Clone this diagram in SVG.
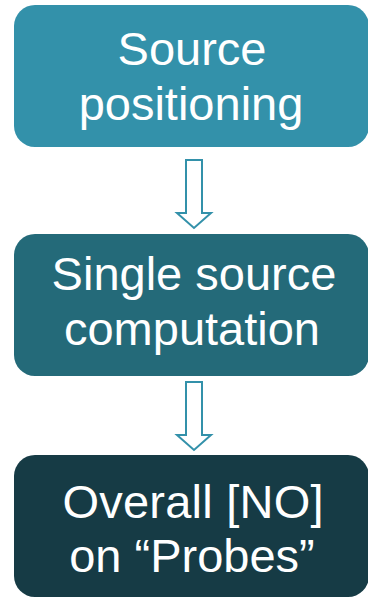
<svg xmlns="http://www.w3.org/2000/svg" width="368" height="597" viewBox="0 0 368 597">
<style>
.box{stroke:none}
.lbl{font-family:"Liberation Sans",Arial,sans-serif;font-size:47px;fill:#ffffff;text-anchor:middle}
.arr{fill:#ffffff;stroke:#3391AA;stroke-width:2;stroke-linejoin:miter}
</style>
<rect width="368" height="597" fill="#ffffff"/>
<g id="node-source-positioning">
<rect class="box" x="14" y="5" width="355" height="142" rx="21" fill="#3391AA"/>
<text class="lbl" x="192" y="65">Source</text>
<text class="lbl" x="191" y="120">positioning</text>
</g>
<g id="node-single-source">
<rect class="box" x="14" y="234" width="355" height="142" rx="21" fill="#246A79"/>
<text class="lbl" x="194" y="290">Single source</text>
<text class="lbl" x="192" y="345">computation</text>
</g>
<g id="node-overall">
<rect class="box" x="14" y="455" width="355" height="142" rx="21" fill="#163B45"/>
<text class="lbl" x="193" y="518" textLength="261">Overall [NO]</text>
<text class="lbl" x="192" y="572">on “Probes”</text>
</g>
<g id="connectors">
<path class="arr" d="M186,160 H202 V213 H211 L194,228 L177,213 H186 Z"/>
<path class="arr" d="M186,382 H202 V435 H211 L194,450 L177,435 H186 Z"/>
</g>
</svg>
